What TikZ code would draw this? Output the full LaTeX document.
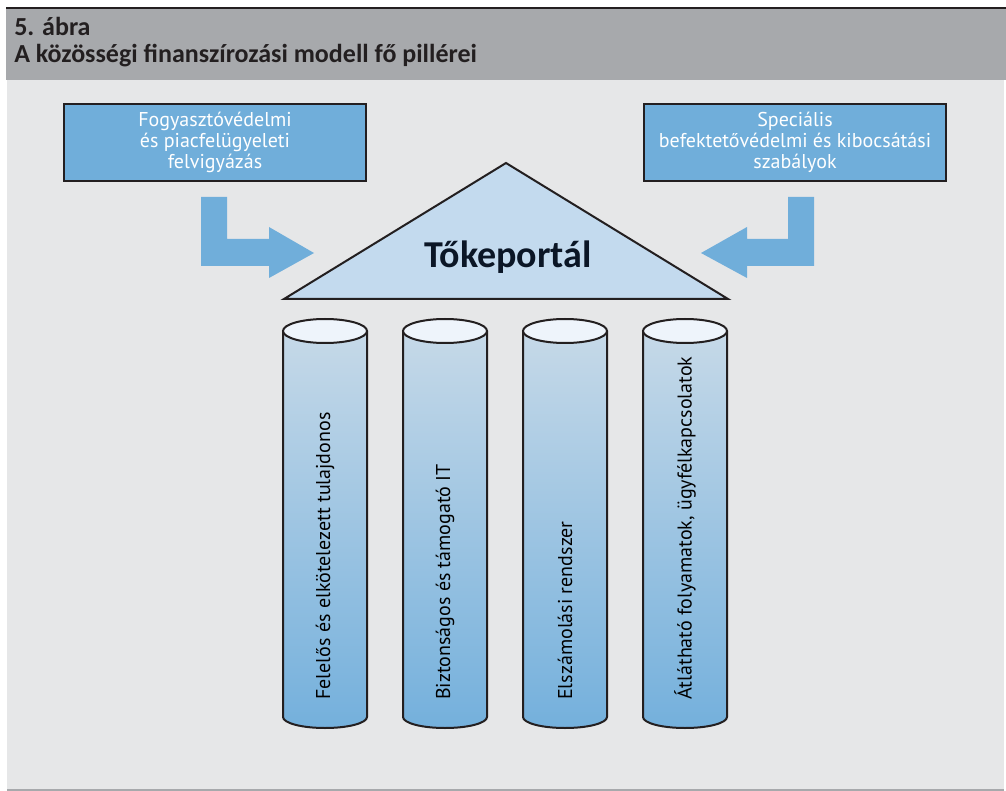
\documentclass[tikz,border=0pt]{standalone}
\usepackage{fontspec}
\setmainfont{PT Sans}
\newfontfamily\headfont{Carlito}
\usetikzlibrary{calc}

\definecolor{headgray}{HTML}{A7A9AC}
\definecolor{bodygray}{HTML}{E6E7E8}
\definecolor{inkdark}{HTML}{231F20}
\definecolor{boxblue}{HTML}{70AEDA}
\definecolor{roofblue}{HTML}{C3DAEE}
\definecolor{pillartop}{HTML}{C6D9E8}
\definecolor{pillarbottom}{HTML}{74B0DC}
\definecolor{pillarcap}{HTML}{EEF4FB}
\definecolor{titlenavy}{HTML}{0B1626}

\begin{document}
\begin{tikzpicture}[x=0.75pt,y=-0.75pt,
	infobox/.style={draw=inkdark,line width=1.5pt,fill=boxblue,text=white,
		minimum width=226.5pt,minimum height=57.75pt,align=center,
		font=\fontsize{15}{15.75}\selectfont},
	pillarlabel/.style={rotate=90,anchor=west,inner sep=0pt,
		font=\fontsize{15}{18}\selectfont},
	headline/.style={anchor=base west,inner sep=0pt,text=inkdark,
		font=\headfont\bfseries\fontsize{19.5}{22}\selectfont}]

	\useasboundingbox (0,0) rectangle (1006,791);

	% Frame
	\fill[white] (0,0) rectangle (1006,791);
	\fill[headgray] (6,9) rectangle (1006,80);
	\fill[bodygray] (7,80) rectangle (1004,789);
	\draw[headgray,line width=1.5pt] (7,789.5) -- (1004,789.5);
	\draw[inkdark,line width=1.5pt] (6,8.3) -- (1006,8.3);

	% Header
	\node[headline] (abraszam) at (14,36) {5. ábra};
	\node[headline] (abracim) at (14,63) {A közösségi finanszírozási modell fő pillérei};

	% Side boxes
	\node[infobox] (fogyaszto) at (215,142.5) {Fogyasztóvédelmi\\és piacfelügyeleti\\felvigyázás};
	\node[infobox] (specialis) at (795,142.5) {Speciális\\befektetővédelmi és kibocsátási\\szabályok};

	% Block arrows
	\fill[boxblue] (201,197) -- (227,197) -- (227,239) -- (269,239) -- (269,227)
		-- (314,253) -- (269,278) -- (269,266) -- (201,266) -- cycle;
	\fill[boxblue] (814,197) -- (788,197) -- (788,239) -- (747,239) -- (747,227)
		-- (701,253) -- (747,278) -- (747,266) -- (814,266) -- cycle;

	% Roof
	\coordinate (apex) at (506,163);
	\coordinate (roofleft) at (284,299);
	\coordinate (roofright) at (728,299);
	\filldraw[fill=roofblue,draw=inkdark,line width=1.5pt] (roofleft) -- (apex) -- (roofright) -- cycle;
	\node[anchor=base,text=titlenavy,font=\headfont\bfseries\fontsize{28.5}{32}\selectfont] (tokeportal) at (508,268) {Tőkeportál};

	% Pillars
	\foreach \cx/\txt [count=\i] in {325/{Felelős és elkötelezett tulajdonos},
		445/{Biztonságos és támogató IT},
		565/{Elszámolási rendszer},
		685/{Átlátható folyamatok, ügyfélkapcsolatok}} {
		\shade[top color=pillartop,bottom color=pillarbottom] (\cx-42,331) -- (\cx-42,717)
			arc[start angle=180,end angle=0,x radius=42,y radius=11] -- (\cx+42,331) -- cycle;
		\draw[inkdark,line width=1.5pt] (\cx-42,331) -- (\cx-42,717)
			arc[start angle=180,end angle=0,x radius=42,y radius=11] -- (\cx+42,331);
		\filldraw[fill=pillarcap,draw=inkdark,line width=1.5pt] (\cx,331) ellipse[x radius=42,y radius=12];
		\node[pillarlabel] (pillar-\i) at (\cx,700) {\txt};
	}

\end{tikzpicture}
\end{document}
